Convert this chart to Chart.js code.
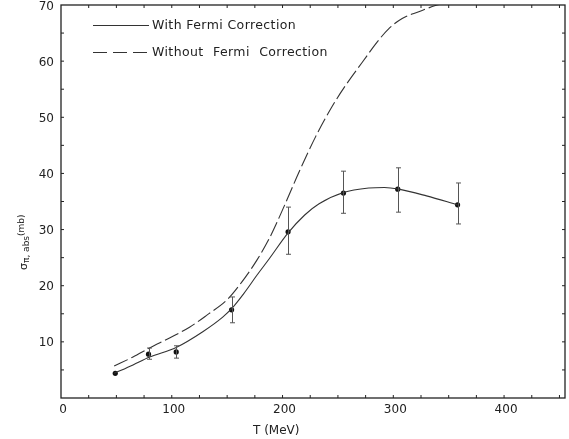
<!DOCTYPE html>
<html><head><meta charset="utf-8">
<script src="https://cdn.jsdelivr.net/npm/chart.js@4"></script>
<style>html,body{margin:0;padding:0;background:#fff}#wrap{width:569px;height:439px;position:relative}</style>
</head><body><div id="wrap"><canvas id="c"></canvas></div>
<script>
// "With Fermi Correction" curve
const withT = [48, 65, 80, 104, 128, 146, 154, 165, 177, 188, 205, 220, 233, 255, 278, 292, 305, 330, 358];
const withY = [4.4, 5.9, 7.3, 9.0, 11.8, 14.4, 15.9, 18.6, 21.9, 24.8, 29.4, 32.6, 34.6, 36.6, 37.4, 37.5, 37.2, 36.0, 34.4];
// "Without Fermi Correction" curve
const withoutT = [48, 65, 80, 98, 116, 132, 150, 163, 177, 188, 195, 204, 215, 230, 245, 257, 272, 285, 296, 308, 323, 338, 360];
const withoutY = [5.7, 7.3, 8.9, 10.7, 12.6, 14.8, 17.5, 20.6, 24.6, 28.4, 31.3, 35.3, 40.3, 46.6, 52.0, 55.7, 59.8, 63.3, 65.8, 67.6, 68.8, 69.9, 71.0];
// measured points with error bars
const ptT  = [49, 79, 104, 154, 205, 255, 304, 358];
const ptY  = [4.4, 7.8, 8.2, 15.7, 29.6, 36.5, 37.2, 34.4];
const ptHi = [4.4, 8.9, 9.3, 18.0, 34.0, 40.4, 41.0, 38.3];
const ptLo = [4.4, 6.9, 7.1, 13.4, 25.6, 32.9, 33.1, 31.0];
// tick labels
const xTickLabels = [0, 100, 200, 300, 400];
const yTickLabels = [10, 20, 30, 40, 50, 60, 70];
const legendLabels = ['With Fermi Correction', 'Without Fermi Correction'];
const xTitle = 'T (MeV)';

const INK = '#222';
const FONT = '"DejaVu Sans", sans-serif';

const toXY = (xs, ys) => xs.map((x, i) => ({x: x, y: ys[i]}));

const decor = {
  id: 'decor',
  afterDatasetsDraw(chart) {
    const ctx = chart.ctx, xs = chart.scales.x, ys = chart.scales.y, a = chart.chartArea;
    ctx.save();
    // error bars
    ctx.strokeStyle = '#555'; ctx.lineWidth = 1;
    ptT.forEach((t, i) => {
      if (ptHi[i] === ptLo[i]) return;
      const px = Math.round(xs.getPixelForValue(t)) + 0.5;
      const yh = ys.getPixelForValue(ptHi[i]), yl = ys.getPixelForValue(ptLo[i]);
      ctx.beginPath();
      ctx.moveTo(px, yh); ctx.lineTo(px, yl);
      ctx.moveTo(px - 2.5, yh); ctx.lineTo(px + 2.5, yh);
      ctx.moveTo(px - 2.5, yl); ctx.lineTo(px + 2.5, yl);
      ctx.stroke();
    });
    // frame
    ctx.strokeStyle = INK; ctx.lineWidth = 1.3;
    ctx.strokeRect(a.left, a.top, a.right - a.left, a.bottom - a.top);
    // inward ticks
    ctx.lineWidth = 1;
    ctx.beginPath();
    for (let v = 25; v < xs.max; v += 25) {
      const px = xs.getPixelForValue(v);
      ctx.moveTo(px, a.bottom); ctx.lineTo(px, a.bottom - 3);
      ctx.moveTo(px, a.top); ctx.lineTo(px, a.top + 3);
    }
    for (let v = 5; v < ys.max; v += 5) {
      const py = ys.getPixelForValue(v);
      ctx.moveTo(a.left, py); ctx.lineTo(a.left + 3, py);
      ctx.moveTo(a.right, py); ctx.lineTo(a.right - 3, py);
    }
    ctx.stroke();
    // legend
    ctx.strokeStyle = '#333'; ctx.lineWidth = 1.1;
    ctx.beginPath(); ctx.moveTo(93, 25.5); ctx.lineTo(149, 25.5); ctx.stroke();
    ctx.setLineDash([14, 6]);
    ctx.beginPath(); ctx.moveTo(93, 52.5); ctx.lineTo(149, 52.5); ctx.stroke();
    ctx.setLineDash([]);
    ctx.fillStyle = INK;
    ctx.font = '12.5px ' + FONT;
    ctx.textBaseline = 'middle'; ctx.textAlign = 'left';
    ctx.letterSpacing = '0.4px';
    ctx.fillText(legendLabels[0], 152, 26);
    ctx.wordSpacing = '5px';
    ctx.fillText(legendLabels[1], 152, 53);
    ctx.wordSpacing = '0px';
    ctx.letterSpacing = '0px';
    // x title
    ctx.font = '12px ' + FONT;
    ctx.textBaseline = 'alphabetic';
    ctx.fillText(xTitle, 253, 434);
    // y title (rotated, with sub/superscripts)
    ctx.translate(27, 270);
    ctx.rotate(-Math.PI / 2);
    ctx.font = '11px ' + FONT;
    ctx.fillText('σ', 0, 0);
    let w = ctx.measureText('σ').width;
    ctx.font = '9px ' + FONT;
    ctx.fillText('π, abs', w, 2);
    w += ctx.measureText('π, abs').width;
    ctx.fillText('(mb)', w, -3.5);
    ctx.restore();
  }
};

new Chart(document.getElementById('c'), {
  type: 'scatter',
  data: {
    datasets: [
      { label: legendLabels[0], data: toXY(withT, withY), showLine: true, pointRadius: 0,
        borderColor: '#333', borderWidth: 1.1, cubicInterpolationMode: 'monotone', fill: false },
      { label: legendLabels[1], data: toXY(withoutT, withoutY), showLine: true, pointRadius: 0,
        borderColor: '#333', borderWidth: 1.1, borderDash: [15, 4], cubicInterpolationMode: 'monotone', fill: false },
      { label: 'data', data: toXY(ptT, ptY), showLine: false, pointRadius: 2.6,
        pointBackgroundColor: '#111', pointBorderColor: '#111', pointBorderWidth: 0 }
    ]
  },
  options: {
    responsive: true, maintainAspectRatio: false, animation: false,
    layout: { padding: { left: 0, right: 2, top: 5, bottom: 0 } },
    plugins: { legend: { display: false }, tooltip: { enabled: false } },
    scales: {
      x: {
        type: 'linear', min: 0, max: 455,
        grid: { display: false, drawTicks: false }, border: { display: false },
        ticks: { stepSize: 25, autoSkip: false, maxRotation: 0, padding: 5, labelOffset: 2,
          color: INK, font: { family: FONT, size: 12 },
          callback: v => xTickLabels.includes(v) ? String(v) : '' },
        afterFit: s => { s.height = 41; s.paddingLeft = 0; s.paddingRight = 0; }
      },
      y: {
        type: 'linear', min: 0, max: 70,
        grid: { display: false, drawTicks: false }, border: { display: false },
        ticks: { stepSize: 5, autoSkip: false, padding: 7, labelOffset: 1.5,
          color: INK, font: { family: FONT, size: 12 },
          callback: v => yTickLabels.includes(v) ? String(v) : '' },
        afterFit: s => { s.width = 61; s.paddingTop = 0; s.paddingBottom = 0; }
      }
    }
  },
  plugins: [decor]
});
</script>
</body></html>
